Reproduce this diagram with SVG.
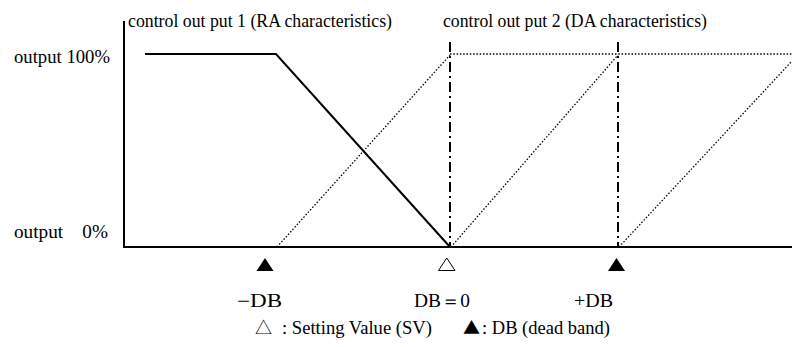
<svg xmlns="http://www.w3.org/2000/svg" width="792" height="347" viewBox="0 0 792 347">
<style>
text{font-family:"Liberation Serif","DejaVu Serif","Times New Roman",serif;font-size:18px;fill:#000}
.sym{font-family:"Noto Sans CJK JP","DejaVu Sans",sans-serif;font-size:17px}
.solid{stroke:#000;stroke-width:2;fill:none}
.dot{stroke:#000;stroke-width:1.3;stroke-dasharray:1.5 1.8;fill:none}
.dd{stroke:#000;stroke-width:2;stroke-dasharray:10 4 2 4;fill:none}
</style>
<g id="axes">
<line class="solid" x1="124" y1="21" x2="124" y2="247"/>
<line class="solid" x1="123" y1="247" x2="792" y2="247"/>
</g>
<g id="labels">
<text x="14" y="63" textLength="96" lengthAdjust="spacingAndGlyphs">output 100%</text>
<text x="14" y="238" xml:space="preserve" textLength="94" lengthAdjust="spacingAndGlyphs">output    0%</text>
<text x="128" y="27" textLength="264" lengthAdjust="spacingAndGlyphs">control out put 1 (RA characteristics)</text>
<text x="443" y="27" textLength="264" lengthAdjust="spacingAndGlyphs">control out put 2 (DA characteristics)</text>
</g>
<g id="connectors">
<polyline class="solid" points="145,54 276,54 450,247"/>
<line class="dd" x1="450" y1="42" x2="450" y2="247"/>
<line class="dd" x1="618" y1="42" x2="618" y2="247"/>
<line class="dot" x1="450" y1="54" x2="792" y2="54"/>
<line class="dot" x1="277" y1="247" x2="450" y2="55"/>
<line class="dot" x1="451" y1="247" x2="618" y2="55"/>
<line class="dot" x1="619" y1="247" x2="792" y2="61"/>
</g>
<g id="markers">
<polygon points="256.5,271 273.5,271 265,258" fill="#000"/>
<polygon points="438.5,270.5 455,270.5 446.75,258" fill="#fff" stroke="#000" stroke-width="1"/>
<polygon points="608,271 625,271 616.5,258" fill="#000"/>
</g>
<g id="ticks">
<text x="237" y="307" textLength="45" lengthAdjust="spacingAndGlyphs">−DB</text>
<text x="414" y="307" textLength="56" lengthAdjust="spacingAndGlyphs">DB＝0</text>
<text x="574" y="307" textLength="39" lengthAdjust="spacingAndGlyphs">+DB</text>
</g>
<g id="legend">
<text class="sym" x="255" y="334">△</text>
<text x="282" y="334" textLength="150" lengthAdjust="spacingAndGlyphs">: Setting Value (SV)</text>
<text class="sym" x="463" y="334">▲</text>
<text x="482" y="334" textLength="128" lengthAdjust="spacingAndGlyphs">: DB (dead band)</text>
</g>
</svg>
